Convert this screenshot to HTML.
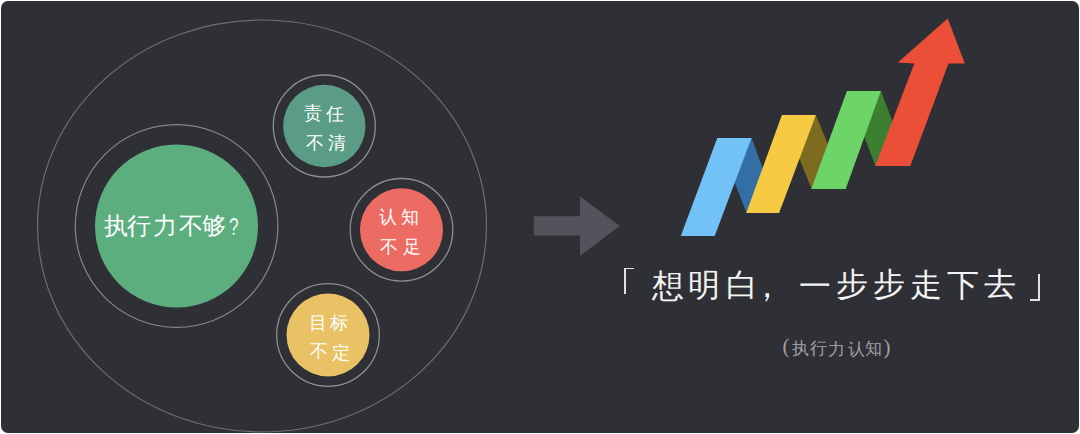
<!DOCTYPE html>
<html><head><meta charset="utf-8">
<style>
html,body{margin:0;padding:0;background:#fff;width:1080px;height:434px;overflow:hidden}
#panel{position:absolute;left:1px;top:1px;width:1078px;height:432.4px;border-radius:7px;background:#2f3035;overflow:hidden}
svg{position:absolute;left:0;top:0}
.br{position:absolute}
.c{position:absolute;white-space:nowrap;font-family:"Liberation Serif",serif;line-height:1}
.t{position:absolute;white-space:nowrap;font-family:"Liberation Serif",serif;color:#fff;line-height:1}
</style></head><body>
<div id="panel"></div>
<svg width="1080" height="434" viewBox="0 0 1080 434">
  <!-- big ellipse -->
  <ellipse cx="262" cy="226" rx="224.5" ry="206" fill="none" stroke="#6d6e73" stroke-width="1.2"/>
  <!-- big green -->
  <circle cx="176.6" cy="226" r="101.3" fill="none" stroke="#85868b" stroke-width="1.2"/>
  <circle cx="176.5" cy="226" r="81.5" fill="#5cae7f"/>
  <!-- teal -->
  <circle cx="324.3" cy="126" r="51" fill="none" stroke="#8c8d92" stroke-width="1.3"/>
  <circle cx="324.3" cy="126" r="41.2" fill="#5a9c86"/>
  <!-- red -->
  <circle cx="401.5" cy="229.8" r="51.3" fill="none" stroke="#8c8d92" stroke-width="1.3"/>
  <circle cx="401.5" cy="229.8" r="41.5" fill="#ec6b63"/>
  <!-- yellow -->
  <circle cx="328" cy="335" r="51.3" fill="none" stroke="#8c8d92" stroke-width="1.3"/>
  <circle cx="328" cy="335" r="41.5" fill="#e8c265"/>
  <!-- gray arrow -->
  <polygon points="533.8,216.3 580,216.3 580,196.2 619.7,226 580,255.9 580,235.6 533.8,235.6" fill="#53545b"/>
  <!-- ribbon backs -->
  <polygon points="717.3,137.9 751.5,137.9 779.4,213 746.5,213" fill="#336fa4"/>
  <polygon points="781.9,115.1 815.9,115.1 846,189 811.6,189" fill="#7d6b20"/>
  <polygon points="846.9,90.9 880.9,90.9 909.4,166 875.5,166" fill="#3c7f30"/>
  <!-- ribbon fronts -->
  <polygon points="680.8,236 714.7,236 751.5,137.9 717.3,137.9" fill="#72c2f7"/>
  <polygon points="746.2,213 779.1,213 815.9,115.1 781.9,115.1" fill="#f6ca42"/>
  <polygon points="811.3,189 845.7,189 880.9,90.9 846.9,90.9" fill="#6dd468"/>
  <polygon points="875.2,166 910.3,166 948.5,63.4 964.8,63.4 947.7,18.6 897.8,62.6 914.3,63.4" fill="#eb4f37"/>
</svg>
<div class="t" style="left:103.7px;top:214px;font-family:'Liberation Sans',sans-serif;font-size:24px;font-weight:300">执</div>
<div class="t" style="left:126.9px;top:214px;font-family:'Liberation Sans',sans-serif;font-size:24px;font-weight:300">行</div>
<div class="t" style="left:152.6px;top:214px;font-family:'Liberation Sans',sans-serif;font-size:24px;font-weight:300">力</div>
<div class="t" style="left:178.6px;top:214px;font-family:'Liberation Sans',sans-serif;font-size:24px;font-weight:300">不</div>
<div class="t" style="left:202.1px;top:214px;font-family:'Liberation Sans',sans-serif;font-size:24px;font-weight:300">够</div>
<div class="t" style="left:229px;top:215px;font-family:'Liberation Sans',sans-serif;font-size:24px;transform:scaleX(0.72);transform-origin:0 0;color:#f4f4f4">?</div>
<div class="c" style="left:303.5px;top:104.3px;font-size:18px;color:#fff">责</div>
<div class="c" style="left:326.0px;top:104.8px;font-size:18px;color:#fff">任</div>
<div class="c" style="left:305.6px;top:133.5px;font-size:18px;color:#fff">不</div>
<div class="c" style="left:328.0px;top:134.4px;font-size:18px;color:#fff">清</div>
<div class="c" style="left:379.2px;top:208.1px;font-size:18px;color:#fff">认</div>
<div class="c" style="left:401.1px;top:208.1px;font-size:18px;color:#fff">知</div>
<div class="c" style="left:380.4px;top:238.0px;font-size:18px;color:#fff">不</div>
<div class="c" style="left:403.2px;top:237.5px;font-size:18px;color:#fff">足</div>
<div class="c" style="left:308.6px;top:313.5px;font-size:18px;color:#fff">目</div>
<div class="c" style="left:330.3px;top:313.6px;font-size:18px;color:#fff">标</div>
<div class="c" style="left:309.7px;top:342.2px;font-size:18px;color:#fff">不</div>
<div class="c" style="left:331.8px;top:343.5px;font-size:18px;color:#fff">定</div>
<div class="c" style="left:652.4px;top:269.5px;font-size:32px;color:#f4f4f4">想</div>
<div class="c" style="left:687.9px;top:268.5px;font-size:32px;color:#f4f4f4">明</div>
<div class="c" style="left:725.9px;top:268.7px;font-size:32px;color:#f4f4f4">白</div>
<div class="c" style="left:751.2px;top:270.0px;font-size:32px;color:#f4f4f4">，</div>
<div class="c" style="left:798.7px;top:270.1px;font-size:32px;color:#f4f4f4">一</div>
<div class="c" style="left:836.1px;top:267.6px;font-size:32px;color:#f4f4f4">步</div>
<div class="c" style="left:872.8px;top:267.6px;font-size:32px;color:#f4f4f4">步</div>
<div class="c" style="left:909.5px;top:268.9px;font-size:32px;color:#f4f4f4">走</div>
<div class="c" style="left:947.0px;top:269.2px;font-size:32px;color:#f4f4f4">下</div>
<div class="c" style="left:983.6px;top:267.8px;font-size:32px;color:#f4f4f4">去</div>
<div class="c" style="left:782.6px;top:336.4px;font-size:21px;color:#a0a0a3">(</div>
<div class="c" style="left:792.0px;top:340.4px;font-size:17px;color:#a0a0a3">执</div>
<div class="c" style="left:810.0px;top:340.2px;font-size:17px;color:#a0a0a3">行</div>
<div class="c" style="left:828.0px;top:340.6px;font-size:17px;color:#a0a0a3">力</div>
<div class="c" style="left:847.9px;top:340.6px;font-size:17px;color:#a0a0a3">认</div>
<div class="c" style="left:865.0px;top:340.0px;font-size:17px;color:#a0a0a3">知</div>
<div class="c" style="left:883.6px;top:337.1px;font-size:21px;color:#a0a0a3">)</div>
<div class="br" style="left:624px;top:268.3px;width:8px;height:25px;border-left:2.2px solid #e2e2e2;border-top:1.6px solid #e2e2e2"></div>
<div class="br" style="left:1030.3px;top:274.3px;width:7.5px;height:24.5px;border-right:2.5px solid #e2e2e2;border-bottom:2.4px solid #e2e2e2"></div>
</body></html>
